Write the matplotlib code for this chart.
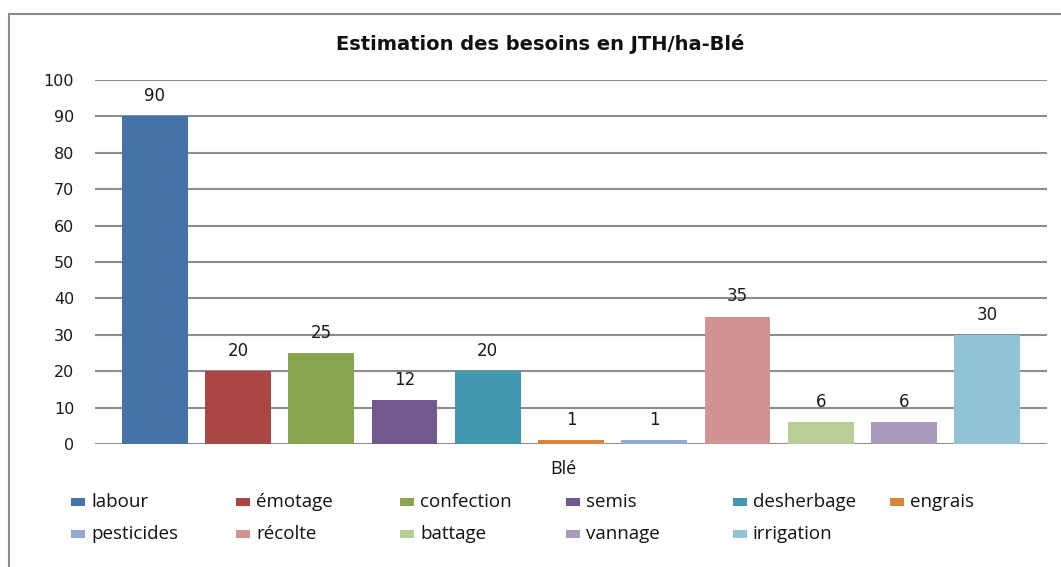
import matplotlib.pyplot as plt
from matplotlib.patches import Rectangle

# data
operations = ['labour', 'émotage', 'confection', 'semis', 'desherbage', 'engrais',
              'pesticides', 'récolte', 'battage', 'vannage', 'irrigation']
jth_ha = [90, 20, 25, 12, 20, 1, 1, 35, 6, 6, 30]
colors = ['#4572A7', '#AA4643', '#89A54E', '#71588F', '#4198AF', '#DB843D',
          '#93A9CF', '#D19392', '#B9CD96', '#A99BBD', '#92C3D4']
yticks = list(range(0, 101, 10))

W, H = 1061, 567
fig = plt.figure(figsize=(W / 100, H / 100), dpi=100)

def fx(px):
    return px / W

def fy(py):
    return 1 - py / H

# outer chart frame (runs off the right and bottom edges)
fig.add_artist(Rectangle((fx(9), fy(600)), fx(1100), fy(14) - fy(600),
                         transform=fig.transFigure, fill=False,
                         edgecolor='#8a8a8a', linewidth=1.5))

ax = fig.add_axes([fx(95), fy(444), fx(1047) - fx(95), fy(80) - fy(444)])
x = list(range(len(operations)))
bars = ax.bar(x, jth_ha, width=0.79, color=colors, zorder=3)

for b, v in zip(bars, jth_ha):
    ax.annotate(str(v), (b.get_x() + b.get_width() / 2, v),
                xytext=(0, 14.5), textcoords='offset points',
                ha='center', va='center', fontsize=12, color='#1a1a1a')

ax.set_xlim(-0.72, len(operations) - 1 + 0.72)
ax.set_ylim(0, 100)
ax.set_yticks(yticks)
ax.set_xticks([])
ax.grid(axis='y', color='#8c8c8c', linewidth=1.5, zorder=0)
for s in ax.spines.values():
    s.set_visible(False)
ax.tick_params(axis='y', length=0, pad=15, labelsize=11.5, labelcolor='#1a1a1a')

fig.text(fx(540), fy(44), 'Estimation des besoins en JTH/ha-Blé',
         ha='center', va='center', fontsize=14, fontweight='bold',
         color='#111111')
fig.text(fx(563), fy(469), 'Blé', ha='center', va='center',
         fontsize=13, family='Open Sans', color='#111111')

# legend laid out row by row like the original
leg_cols = [71, 236, 400, 566, 733, 890]
for i, (name, c) in enumerate(zip(operations, colors)):
    col, row = i % 6, i // 6
    lx = leg_cols[col]
    ly = 502 + row * 32
    fig.add_artist(Rectangle((fx(lx), fy(ly + 4)), fx(14), fy(ly - 4) - fy(ly + 4),
                             transform=fig.transFigure, facecolor=c,
                             edgecolor='none'))
    fig.text(fx(lx + 20), fy(ly), name, ha='left', va='center',
             fontsize=13.5, family='Open Sans', color='#111111')

fig.savefig('out.png', dpi=100)
